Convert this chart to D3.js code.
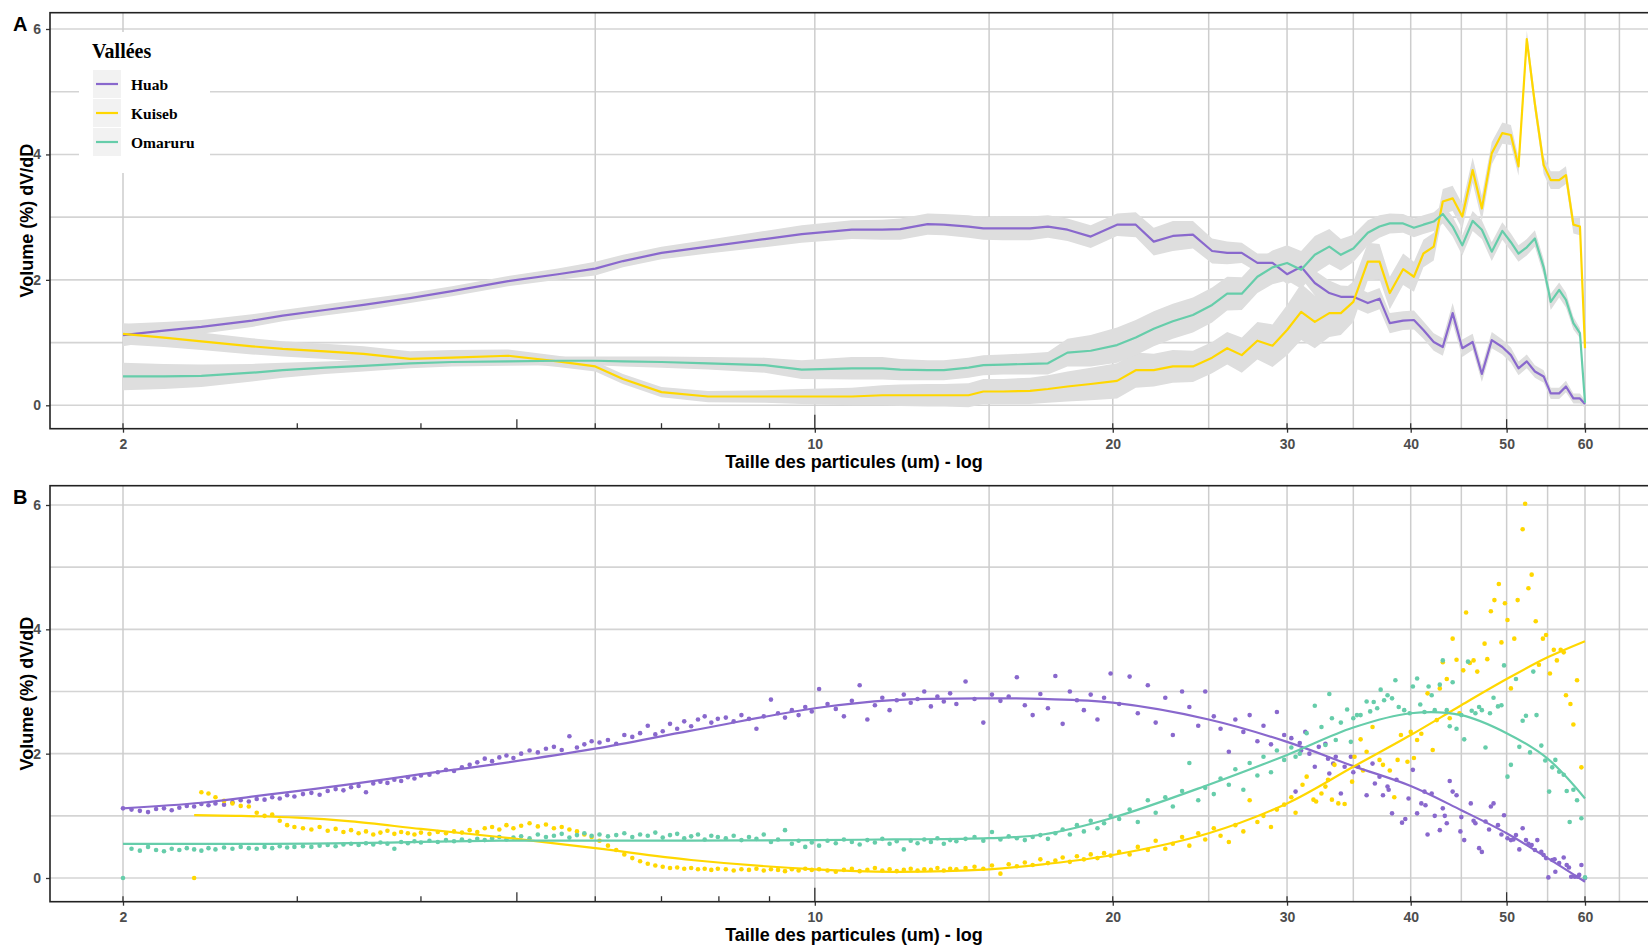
<!DOCTYPE html>
<html>
<head>
<meta charset="utf-8">
<script src="https://cdn.jsdelivr.net/npm/d3@7"></script>
<style>
body { margin: 0; background: #fff; }
svg { display: block; }
</style>
</head>
<body>
<div id="chart"></div>
<script>
var valleys = ['Huab', 'Kuiseb', 'Omaruru'];
var valleyColors = ['#8968CD', '#FFD700', '#66CDAA'];

var xBreaks = [2, 10, 20, 30, 40, 50, 60];
var xMinorBreaks = [6, 15, 25, 35, 45, 55, 65];
var logTicks = [2, 3, 4, 5, 6, 7, 8, 9, 10, 20, 30, 40, 50, 60];
var yBreaks = [0, 2, 4, 6];
var yMinorBreaks = [1, 3, 5];

// ---- panel A : mean curve and standard error per valley
var aSizes = [2.0, 2.2, 2.4, 2.7, 2.9, 3.2, 3.5, 3.9, 4.3, 4.9,
  5.5, 6.0, 6.4, 7.0, 7.8, 8.9, 9.7, 10.9, 11.7, 12.2,
  13.0, 13.5, 14.3, 14.8, 15.5, 16.5, 17.2, 18.0, 19.0, 20.2,
  21.1, 22.0, 23.0, 24.1, 25.2, 26.1, 27.0, 28.0, 29.0, 30.0,
  31.0, 32.0, 33.1, 34.0, 35.0, 36.2, 37.2, 38.1, 39.3, 40.3,
  41.2, 42.2, 43.1, 44.1, 45.1, 46.2, 47.2, 48.3, 49.5, 50.5,
  51.4, 52.4, 53.4, 54.5, 55.4, 56.5, 57.4, 58.4, 59.3, 60.0];

var huabMean = [1.12, 1.19, 1.25, 1.35, 1.43, 1.52, 1.60, 1.71, 1.82, 1.98,
  2.09, 2.18, 2.30, 2.43, 2.53, 2.65, 2.73, 2.80, 2.80, 2.81,
  2.89, 2.88, 2.85, 2.82, 2.82, 2.82, 2.85, 2.80, 2.69, 2.88,
  2.88, 2.61, 2.70, 2.72, 2.46, 2.43, 2.43, 2.27, 2.27, 2.09,
  2.21, 1.95, 1.79, 1.73, 1.73, 1.63, 1.70, 1.31, 1.35, 1.36,
  1.20, 1.01, 0.93, 1.47, 0.91, 1.01, 0.50, 1.04, 0.93, 0.80,
  0.59, 0.70, 0.54, 0.46, 0.19, 0.19, 0.30, 0.11, 0.11, 0.02];
var huabSe = [0.18, 0.14, 0.11, 0.10, 0.09, 0.09, 0.09, 0.08, 0.08, 0.08,
  0.09, 0.11, 0.10, 0.10, 0.11, 0.13, 0.14, 0.15, 0.16, 0.17,
  0.17, 0.17, 0.18, 0.18, 0.19, 0.19, 0.18, 0.18, 0.18, 0.18,
  0.20, 0.22, 0.24, 0.22, 0.20, 0.18, 0.16, 0.15, 0.15, 0.16,
  0.18, 0.20, 0.20, 0.18, 0.17, 0.17, 0.17, 0.16, 0.15, 0.15,
  0.14, 0.14, 0.14, 0.16, 0.14, 0.13, 0.13, 0.13, 0.12, 0.12,
  0.11, 0.11, 0.10, 0.10, 0.09, 0.09, 0.09, 0.08, 0.08, 0.06];

var kuisebMean = [1.14, 1.08, 1.02, 0.94, 0.90, 0.86, 0.82, 0.74, 0.76, 0.79,
  0.70, 0.62, 0.42, 0.21, 0.14, 0.14, 0.14, 0.14, 0.16, 0.16,
  0.16, 0.16, 0.16, 0.22, 0.22, 0.23, 0.26, 0.30, 0.34, 0.39,
  0.56, 0.56, 0.62, 0.62, 0.76, 0.91, 0.80, 1.03, 0.95, 1.20,
  1.49, 1.33, 1.47, 1.47, 1.65, 2.29, 2.29, 1.79, 2.17, 2.05,
  2.42, 2.53, 3.25, 3.30, 3.01, 3.75, 3.14, 4.02, 4.34, 4.31,
  3.81, 5.84, 4.80, 3.83, 3.59, 3.59, 3.67, 2.88, 2.85, 0.91];
var kuisebSe = [0.17, 0.15, 0.14, 0.13, 0.12, 0.12, 0.12, 0.12, 0.12, 0.10,
  0.09, 0.08, 0.08, 0.08, 0.09, 0.10, 0.12, 0.14, 0.16, 0.17,
  0.18, 0.18, 0.19, 0.20, 0.20, 0.21, 0.22, 0.24, 0.26, 0.28,
  0.28, 0.26, 0.26, 0.25, 0.25, 0.26, 0.28, 0.30, 0.34, 0.40,
  0.45, 0.42, 0.38, 0.35, 0.32, 0.30, 0.28, 0.26, 0.25, 0.24,
  0.22, 0.22, 0.20, 0.20, 0.20, 0.20, 0.20, 0.18, 0.17, 0.16,
  0.15, 0.14, 0.14, 0.14, 0.14, 0.14, 0.14, 0.14, 0.14, 0.10];

var omaruruMean = [0.46, 0.46, 0.47, 0.52, 0.56, 0.60, 0.63, 0.67, 0.69, 0.70,
  0.71, 0.71, 0.70, 0.69, 0.67, 0.64, 0.57, 0.59, 0.59, 0.57,
  0.56, 0.56, 0.60, 0.64, 0.65, 0.66, 0.67, 0.84, 0.87, 0.96,
  1.08, 1.22, 1.34, 1.44, 1.60, 1.78, 1.78, 2.05, 2.20, 2.27,
  2.16, 2.40, 2.53, 2.40, 2.50, 2.75, 2.85, 2.90, 2.90, 2.83,
  2.88, 2.93, 3.05, 2.85, 2.55, 2.94, 2.80, 2.45, 2.78, 2.60,
  2.42, 2.52, 2.66, 2.20, 1.65, 1.84, 1.68, 1.31, 1.15, 0.04];
var omaruruSe = [0.22, 0.20, 0.18, 0.14, 0.12, 0.10, 0.09, 0.08, 0.07, 0.07,
  0.07, 0.07, 0.08, 0.09, 0.10, 0.12, 0.15, 0.18, 0.18, 0.17,
  0.16, 0.16, 0.16, 0.16, 0.16, 0.17, 0.18, 0.22, 0.25, 0.28,
  0.28, 0.28, 0.28, 0.28, 0.28, 0.27, 0.26, 0.26, 0.27, 0.28,
  0.30, 0.30, 0.28, 0.25, 0.22, 0.20, 0.18, 0.16, 0.15, 0.15,
  0.15, 0.15, 0.15, 0.16, 0.16, 0.16, 0.15, 0.15, 0.14, 0.14,
  0.13, 0.13, 0.13, 0.13, 0.13, 0.12, 0.12, 0.10, 0.08, 0.05];

// ---- panel B : individual measurements (2 to 30 um on shared bins)
var binSizes = [2.00, 2.04, 2.08, 2.12, 2.16, 2.20, 2.24, 2.28, 2.32, 2.36, 2.40, 2.44, 2.48,
  2.53, 2.58, 2.63, 2.68, 2.73, 2.78, 2.83, 2.88, 2.93, 2.98,
  3.04, 3.10, 3.16, 3.22, 3.28, 3.34, 3.40, 3.46, 3.52, 3.58, 3.64, 3.70, 3.76, 3.82, 3.88, 3.94, 4.00,
  4.08, 4.16, 4.24, 4.32, 4.40, 4.48, 4.56, 4.64, 4.72, 4.80, 4.88, 4.96,
  5.05, 5.15, 5.25, 5.35, 5.45, 5.55, 5.65, 5.75, 5.85, 5.95,
  6.06, 6.18, 6.30, 6.42, 6.54, 6.66, 6.78, 6.90, 7.02, 7.14, 7.26, 7.38, 7.50, 7.62, 7.74, 7.86, 7.98,
  8.13, 8.28, 8.43, 8.58, 8.73, 8.88, 9.03, 9.18, 9.33, 9.48, 9.63, 9.78, 9.93,
  10.1, 10.3, 10.5, 10.7, 10.9, 11.1, 11.3, 11.5, 11.7, 11.9, 12.1, 12.3, 12.5, 12.7, 12.9, 13.1, 13.3, 13.5, 13.7, 13.9,
  14.2, 14.5, 14.8, 15.1, 15.4, 15.7, 16.0, 16.3, 16.6, 16.9, 17.2, 17.5, 17.8, 18.1, 18.4, 18.7, 19.0, 19.3, 19.6, 19.9,
  20.3, 20.8, 21.2, 21.7, 22.1, 22.6, 23.0, 23.5, 23.9, 24.4, 24.8, 25.3, 25.7, 26.2, 26.6, 27.1, 27.5, 28.0, 28.4, 28.9, 29.3, 29.8,
  30.3, 30.6];

var huabPoints = [1.12, 1.10, 1.08, 1.06, 1.11, 1.12, 1.09, 1.13, 1.16, 1.15, 1.19, 1.17, 1.20,
  1.18, 1.22, 1.25, 1.23, 1.27, 1.26, 1.30, 1.28, 1.33, 1.31,
  1.35, 1.37, 1.34, 1.40, 1.43, 1.41, 1.46, 1.48, 1.38, 1.52, 1.55, 1.53, 1.58, 1.56, 1.62, 1.60, 1.65,
  1.66, 1.70, 1.74, 1.72, 1.78, 1.82, 1.86, 1.92, 1.88, 1.94, 1.97, 1.93,
  2.00, 2.05, 2.02, 2.08, 2.11, 2.06, 2.28, 2.10, 2.15, 2.20,
  2.18, 2.22, 2.16, 2.30, 2.27, 2.33, 2.45, 2.31, 2.36, 2.48, 2.40, 2.52, 2.44, 2.55, 2.60, 2.50, 2.56,
  2.58, 2.52, 2.62, 2.56, 2.40, 2.60, 2.87, 2.65, 2.58, 2.70, 2.62, 2.75, 2.68,
  3.04, 2.80, 2.72, 2.60, 2.85, 3.10, 2.55, 2.78, 2.90, 2.70, 2.86, 2.95, 2.82, 2.88, 3.00, 2.76, 2.92, 2.84, 2.97, 2.80,
  3.16, 2.88, 2.50, 2.95, 2.85, 2.92, 3.23, 2.78, 2.62, 2.96, 2.73, 3.25, 2.48, 3.00, 2.86, 2.70, 2.95, 2.55, 2.90, 3.29,
  2.80, 3.24, 2.65, 3.10, 2.50, 2.90, 2.30, 3.00, 2.75, 2.45, 3.00, 2.60, 2.40, 2.03, 2.55, 2.35, 2.62, 2.20, 2.45, 2.15, 2.67, 2.30,
  2.25, 1.39];

var kuisebPoints = [null, null, null, null, null, null, null, null, null, 0.00, 1.38, 1.36, 1.30,
  1.24, 1.20, 1.16, 1.15, 1.05, 1.00, 1.02, 0.92, 0.85, 0.82,
  0.80, 0.78, 0.82, 0.76, 0.79, 0.74, 0.77, 0.72, 0.75, 0.70, 0.73, 0.76, 0.71, 0.74, 0.72, 0.70, 0.73,
  0.71, 0.74, 0.72, 0.75, 0.73, 0.77, 0.74, 0.80, 0.82, 0.78, 0.85, 0.80,
  0.84, 0.88, 0.83, 0.86, 0.80, 0.82, 0.78, 0.75, 0.70, 0.66,
  0.60, 0.52, 0.45, 0.38, 0.32, 0.27, 0.23, 0.20, 0.18, 0.16, 0.17, 0.15, 0.16, 0.14, 0.15, 0.13, 0.15,
  0.14, 0.12, 0.14, 0.13, 0.15, 0.12, 0.14, 0.13, 0.11, 0.14, 0.12, 0.15, 0.13,
  0.14, 0.12, 0.10, 0.13, 0.15, 0.11, 0.13, 0.16, 0.12, 0.14, 0.11, 0.13, 0.15, 0.12, 0.14, 0.13, 0.16, 0.12, 0.15, 0.14,
  0.16, 0.18, 0.15, 0.20, 0.07, 0.22, 0.19, 0.25, 0.21, 0.30, 0.24, 0.28, 0.33, 0.26, 0.35, 0.30, 0.38, 0.32, 0.40, 0.36,
  0.42, 0.38, 0.50, 0.45, 0.60, 0.47, 0.55, 0.66, 0.52, 0.72, 0.62, 0.80, 0.68, 0.58, 0.85, 0.75, 1.25, 0.90, 1.00, 0.82, 1.10, 1.18,
  1.30, 1.05];

var omaruruPoints = [0.00, 0.47, 0.44, 0.50, 0.45, 0.43, 0.47, 0.45, 0.48, 0.46, 0.44, 0.48, 0.46,
  0.49, 0.47, 0.50, 0.48, 0.47, 0.50, 0.48, 0.51, 0.49, 0.50,
  0.51, 0.50, 0.52, 0.53, 0.51, 0.54, 0.55, 0.53, 0.56, 0.54, 0.57, 0.55, 0.47, 0.58, 0.56, 0.59, 0.57,
  0.60, 0.58, 0.61, 0.59, 0.62, 0.60, 0.63, 0.61, 0.64, 0.66, 0.62, 0.65,
  0.67, 0.64, 0.70, 0.66, 0.68, 0.71, 0.65, 0.69, 0.72, 0.68,
  0.70, 0.67, 0.69, 0.72, 0.66, 0.70, 0.68, 0.73, 0.65, 0.69, 0.71, 0.64, 0.67, 0.70, 0.62, 0.68, 0.66,
  0.64, 0.68, 0.61, 0.66, 0.63, 0.70, 0.58, 0.62, 0.77, 0.55, 0.60, 0.50, 0.57,
  0.52, 0.60, 0.56, 0.62, 0.58, 0.54, 0.61, 0.57, 0.63, 0.55, 0.59, 0.46, 0.60, 0.56, 0.62, 0.58, 0.64, 0.55, 0.61, 0.59,
  0.63, 0.66, 0.60, 0.74, 0.62, 0.67, 0.64, 0.61, 0.66, 0.69, 0.63, 0.72, 0.78, 0.70, 0.85, 0.75, 0.92, 0.80, 0.88, 1.00,
  0.95, 1.10, 0.90, 1.25, 1.05, 1.30, 1.15, 1.40, 1.85, 1.25, 1.45, 1.35, 1.60, 1.50, 1.75, 1.42, 1.85, 1.65, 1.95, 1.70, 2.05, 1.90,
  2.10, 1.95];

// ---- panel B : coarse end (30 to 60 um), [size, value]
var huabTail = [[30.9, 2.17], [31.0, 2.05], [31.3, 2.35], [31.6, 2.00], [32.0, 1.79], [32.3, 2.11], [32.8, 2.16],
  [33.0, 1.92], [33.1, 1.68], [33.4, 1.84], [33.6, 1.95], [34.0, 1.36], [34.3, 1.79], [34.8, 1.95], [35.0, 1.70],
  [35.4, 1.79], [36.1, 1.33], [36.6, 1.84], [36.8, 1.52], [37.2, 1.63], [37.5, 1.33], [37.9, 1.47], [38.0, 1.42],
  [38.3, 1.04], [38.7, 1.58], [39.2, 0.89], [39.5, 0.95], [39.8, 1.28], [40.2, 1.74], [40.6, 1.04], [41.0, 1.20],
  [41.3, 1.39], [41.4, 1.17], [41.6, 0.70], [42.0, 1.36], [42.3, 1.00], [42.8, 0.77], [43.1, 1.12], [43.3, 1.00],
  [43.5, 0.88], [43.8, 1.56], [44.1, 1.39], [44.5, 1.33], [44.9, 0.75], [45.0, 0.98], [45.3, 0.61], [46.0, 1.20],
  [46.3, 0.92], [46.5, 0.88], [46.9, 0.48], [47.2, 0.42], [47.6, 0.91], [48.0, 0.78], [48.2, 1.15], [48.5, 1.20],
  [49.0, 0.85], [49.4, 0.70], [49.7, 1.01], [50.1, 0.64], [50.5, 0.61], [50.8, 0.62], [51.1, 0.69], [51.5, 0.46],
  [51.9, 0.80], [52.3, 0.61], [52.6, 0.55], [53.0, 0.53], [53.4, 0.45], [53.7, 0.61], [54.2, 0.42], [54.5, 0.37],
  [54.8, 0.32], [55.1, 0.01], [55.6, 0.29], [55.9, 0.30], [56.0, 0.10], [56.5, 0.24], [57.1, 0.33], [57.5, 0.21],
  [57.8, 0.17], [58.1, 0.02], [58.6, 0.02], [59.0, 0.02], [59.2, 0.05], [59.5, 0.21], [60.0, 0.00]];

var kuisebTail = [[31.1, 1.50], [31.4, 1.63], [31.9, 1.26], [32.1, 1.23], [32.5, 1.36], [32.8, 1.47], [33.0, 1.58],
  [33.3, 1.26], [33.5, 1.82], [33.8, 1.20], [34.3, 1.19], [34.9, 1.55], [35.1, 1.95], [35.6, 2.23], [35.8, 1.73],
  [36.1, 2.03], [36.6, 2.43], [37.2, 1.90], [37.5, 1.82], [38.1, 1.73], [38.5, 1.30], [38.8, 1.90], [39.1, 2.30],
  [39.7, 1.87], [40.0, 2.35], [40.3, 1.93], [40.6, 2.22], [41.0, 2.32], [41.6, 2.97], [42.1, 2.06], [42.5, 2.54],
  [42.8, 3.05], [43.1, 3.47], [43.5, 3.20], [43.8, 2.57], [44.1, 3.85], [44.5, 3.51], [44.8, 2.65], [45.2, 3.34],
  [45.5, 4.27], [45.9, 3.46], [46.3, 3.50], [46.7, 3.32], [47.5, 3.77], [47.8, 3.52], [48.2, 4.29], [48.6, 4.47],
  [49.1, 4.73], [49.4, 3.79], [49.8, 4.42], [50.1, 4.15], [50.5, 3.05], [50.9, 3.85], [51.3, 4.47], [51.9, 5.61],
  [52.2, 6.02], [52.6, 4.66], [53.0, 4.88], [53.5, 4.13], [53.9, 3.43], [54.4, 3.85], [54.8, 3.91], [55.3, 3.29],
  [55.8, 3.67], [56.2, 3.50], [56.7, 3.67], [57.1, 3.63], [57.4, 2.94], [58.0, 2.80], [58.4, 2.47], [58.9, 3.18],
  [59.5, 1.78]];

var omaruruTail = [[30.9, 2.00], [31.4, 2.33], [32.0, 2.77], [32.5, 2.43], [32.8, 2.14], [33.1, 2.96], [33.3, 2.57],
  [33.6, 2.22], [34.0, 2.50], [34.5, 2.71], [34.8, 2.19], [35.0, 2.57], [35.3, 2.62], [35.6, 2.62], [36.1, 2.84],
  [36.4, 2.68], [36.7, 2.83], [37.0, 2.73], [37.3, 3.03], [37.6, 2.86], [37.9, 2.94], [38.3, 2.89], [38.6, 3.18],
  [38.9, 2.75], [39.4, 2.70], [39.9, 2.65], [40.2, 3.08], [40.6, 3.21], [40.9, 2.79], [41.3, 2.67], [41.7, 3.08],
  [42.0, 2.94], [42.3, 2.70], [42.8, 3.11], [43.1, 3.50], [43.5, 2.70], [43.8, 2.44], [44.1, 3.15], [44.5, 2.40],
  [45.0, 2.62], [45.3, 2.23], [45.7, 3.48], [46.1, 2.69], [46.5, 2.65], [46.9, 2.75], [47.2, 2.70], [47.6, 2.10],
  [48.1, 2.65], [48.5, 2.90], [49.0, 2.76], [49.4, 2.78], [49.7, 3.42], [50.1, 1.63], [50.5, 1.82], [51.1, 3.20],
  [51.5, 2.11], [51.9, 2.53], [52.3, 2.61], [52.8, 2.02], [53.2, 3.32], [53.6, 2.62], [54.2, 2.13], [54.7, 1.89],
  [55.2, 1.39], [55.6, 1.78], [56.0, 1.90], [56.5, 1.71], [57.1, 1.66], [57.5, 1.40], [57.9, 0.90], [58.4, 1.42],
  [58.9, 1.25], [59.5, 0.96], [60.0, 0.01]];

// ---- panel B : loess trend per valley, [size, value]
var huabSmooth = [[2, 1.12], [2.4, 1.21], [2.8, 1.34], [3.4, 1.51], [4, 1.67], [4.8, 1.84], [6, 2.08], [7.5, 2.37],
  [10, 2.73], [12, 2.86], [15, 2.89], [17, 2.88], [20, 2.82], [25, 2.55], [30, 2.19], [35, 1.80], [40, 1.48],
  [45, 1.09], [50, 0.72], [55, 0.32], [60, -0.06]];
var kuisebSmooth = [[2.36, 1.01], [2.6, 1.00], [3.0, 0.97], [3.4, 0.91], [4, 0.79], [4.8, 0.66], [6, 0.48], [7.5, 0.29],
  [10, 0.14], [12, 0.10], [15, 0.14], [17, 0.22], [20, 0.37], [25, 0.72], [30, 1.20], [35, 1.79], [40, 2.30],
  [45, 2.78], [50, 3.20], [55, 3.55], [60, 3.81]];
var omaruruSmooth = [[2, 0.55], [2.4, 0.55], [2.8, 0.55], [3.4, 0.56], [4, 0.58], [4.8, 0.60], [6, 0.60], [7.5, 0.60],
  [10, 0.61], [12, 0.62], [15, 0.64], [17, 0.70], [20, 0.97], [25, 1.50], [30, 1.98], [35, 2.42], [40, 2.65],
  [45, 2.62], [50, 2.33], [55, 1.92], [60, 1.28]];

var W = 1648, H = 949;
var PX0 = 50, PX1 = 1658;
var sansFont = '"Liberation Sans", Arial, Helvetica, sans-serif';
var serifFont = '"Liberation Serif", "Times New Roman", serif';

var svg = d3.select('#chart').append('svg')
    .attr('width', W).attr('height', H)
    .style('font-family', sansFont);

var x = d3.scaleLog().domain([2, 60]).range([123, 1585]);

// frame of a panel : grid, clip, and returns the y scale
function makePanel(id, top, bottom, yZero, ySix) {
  var y = d3.scaleLinear().domain([0, 6]).range([yZero, ySix]);
  var g = svg.append('g');

  svg.append('clipPath').attr('id', 'clip' + id)
    .append('rect').attr('x', PX0).attr('y', top)
    .attr('width', PX1 - PX0).attr('height', bottom - top);

  g.selectAll('line.hgrid')
    .data(yMinorBreaks.concat(yBreaks))
    .enter().append('line')
    .attr('x1', PX0).attr('x2', PX1)
    .attr('y1', function(d) { return y(d); })
    .attr('y2', function(d) { return y(d); })
    .attr('stroke', '#d4d4d4').attr('stroke-width', 1.6);

  g.selectAll('line.vgrid')
    .data(xMinorBreaks.concat(xBreaks))
    .enter().append('line')
    .attr('x1', function(d) { return x(d); })
    .attr('x2', function(d) { return x(d); })
    .attr('y1', top).attr('y2', bottom)
    .attr('stroke', '#cdcdcd').attr('stroke-width', 1.5);

  var data = svg.append('g').attr('clip-path', 'url(#clip' + id + ')');
  return {y: y, data: data, top: top, bottom: bottom};
}

// axes, border, logticks, titles
function finishPanel(p, label) {
  var y = p.y;
  var yAxis = d3.axisLeft(y).tickValues(yBreaks).tickSize(4).tickPadding(5)
      .tickFormat(d3.format('d'));
  var ga = svg.append('g').attr('transform', 'translate(' + PX0 + ',0)').call(yAxis);
  ga.select('.domain').remove();
  ga.attr('font-family', sansFont).attr('font-size', 14);
  ga.selectAll('line').attr('stroke', '#333').attr('stroke-width', 1.3);
  ga.selectAll('text').attr('fill', '#4d4d4d').attr('font-weight', 'bold');

  var xAxis = d3.axisBottom(x).tickValues(xBreaks).tickSize(4).tickPadding(6)
      .tickFormat(d3.format('d'));
  var gx = svg.append('g').attr('transform', 'translate(0,' + p.bottom + ')').call(xAxis);
  gx.select('.domain').remove();
  gx.attr('font-family', sansFont).attr('font-size', 14);
  gx.selectAll('line').attr('stroke', '#333').attr('stroke-width', 1.3);
  gx.selectAll('text').attr('fill', '#4d4d4d').attr('font-weight', 'bold');

  // log ticks on the bottom, inside the panel
  svg.append('g').selectAll('line')
    .data(logTicks)
    .enter().append('line')
    .attr('x1', function(d) { return x(d); })
    .attr('x2', function(d) { return x(d); })
    .attr('y1', p.bottom)
    .attr('y2', function(d) {
      var len = d === 10 ? 14 : ((d === 5 || d === 50) ? 9.5 : 5.5);
      return p.bottom - len;
    })
    .attr('stroke', '#333').attr('stroke-width', 1.3);

  svg.append('rect')
    .attr('x', PX0).attr('y', p.top)
    .attr('width', PX1 - PX0).attr('height', p.bottom - p.top)
    .attr('fill', 'none').attr('stroke', '#222').attr('stroke-width', 1.6);

  svg.append('text')
    .attr('x', 13).attr('y', p.top + 18.5)
    .attr('font-size', 20).attr('font-weight', 'bold').attr('fill', '#000')
    .text(label);

  svg.append('text')
    .attr('x', (PX0 + PX1) / 2).attr('y', p.bottom + 39.5)
    .attr('text-anchor', 'middle')
    .attr('font-size', 18).attr('font-weight', 'bold').attr('fill', '#000')
    .text('Taille des particules (um) - log');

  svg.append('text')
    .attr('transform', 'translate(33,' + ((p.top + p.bottom) / 2) + ') rotate(-90)')
    .attr('text-anchor', 'middle')
    .attr('font-size', 18).attr('font-weight', 'bold').attr('fill', '#000')
    .text('Volume (%) dV/dD');
}

// ---------------- panel A
var pA = makePanel('A', 12.7, 428.7, 405.3, 29);

var meansA = [huabMean, kuisebMean, omaruruMean];
var sesA = [huabSe, kuisebSe, omaruruSe];
var seriesA = valleys.map(function(v, k) {
  return aSizes.map(function(s, i) {
    return {size: s, mean: meansA[k][i], se: sesA[k][i]};
  });
});

var ribbon = d3.area()
    .x(function(d) { return x(d.size); })
    .y0(function(d) { return pA.y(d.mean - d.se); })
    .y1(function(d) { return pA.y(d.mean + d.se); });

var meanLine = d3.line()
    .x(function(d) { return x(d.size); })
    .y(function(d) { return pA.y(d.mean); });

pA.data.selectAll('path.ribbon')
  .data(seriesA)
  .enter().append('path')
  .attr('d', ribbon)
  .attr('fill', '#dedede');

pA.data.selectAll('path.mean')
  .data(seriesA)
  .enter().append('path')
  .attr('d', meanLine)
  .attr('fill', 'none')
  .attr('stroke', function(d, i) { return valleyColors[i]; })
  .attr('stroke-width', 2.2)
  .attr('stroke-linejoin', 'round');

finishPanel(pA, 'A');

// legend
var legend = svg.append('g');
legend.append('rect')
  .attr('x', 79).attr('y', 32).attr('width', 131).attr('height', 141)
  .attr('fill', '#fff');
legend.append('text')
  .attr('x', 92).attr('y', 58)
  .attr('font-family', serifFont).attr('font-size', 20).attr('font-weight', 'bold')
  .text('Vallées');
var keys = legend.selectAll('g.key')
  .data(valleys)
  .enter().append('g')
  .attr('transform', function(d, i) { return 'translate(93,' + (70 + 29 * i) + ')'; });
keys.append('rect')
  .attr('width', 28).attr('height', 28).attr('fill', '#f2f2f2');
keys.append('line')
  .attr('x1', 3).attr('x2', 25).attr('y1', 14).attr('y2', 14)
  .attr('stroke', function(d, i) { return valleyColors[i]; })
  .attr('stroke-width', 2.2);
keys.append('text')
  .attr('x', 38).attr('y', 20)
  .attr('font-family', serifFont).attr('font-size', 15.5).attr('font-weight', 'bold')
  .text(function(d) { return d; });

// ---------------- panel B
var pB = makePanel('B', 485.7, 901.7, 878, 505);

var pointsB = [huabPoints, kuisebPoints, omaruruPoints];
var tailsB = [huabTail, kuisebTail, omaruruTail];
var smoothB = [huabSmooth, kuisebSmooth, omaruruSmooth];

valleys.forEach(function(v, k) {
  var pts = binSizes.map(function(s, i) { return [s, pointsB[k][i]]; })
      .filter(function(d) { return d[1] != null; })
      .concat(tailsB[k]);
  pB.data.append('g').selectAll('circle')
    .data(pts)
    .enter().append('circle')
    .attr('cx', function(d) { return x(d[0]); })
    .attr('cy', function(d) { return pB.y(d[1]); })
    .attr('r', 2.3)
    .attr('fill', valleyColors[k]);
});

var smoothLine = d3.line()
    .curve(d3.curveCatmullRom.alpha(0.5))
    .x(function(d) { return x(d[0]); })
    .y(function(d) { return pB.y(d[1]); });

pB.data.selectAll('path.smooth')
  .data(smoothB)
  .enter().append('path')
  .attr('d', smoothLine)
  .attr('fill', 'none')
  .attr('stroke', function(d, i) { return valleyColors[i]; })
  .attr('stroke-width', 2.2);

finishPanel(pB, 'B');
</script>
